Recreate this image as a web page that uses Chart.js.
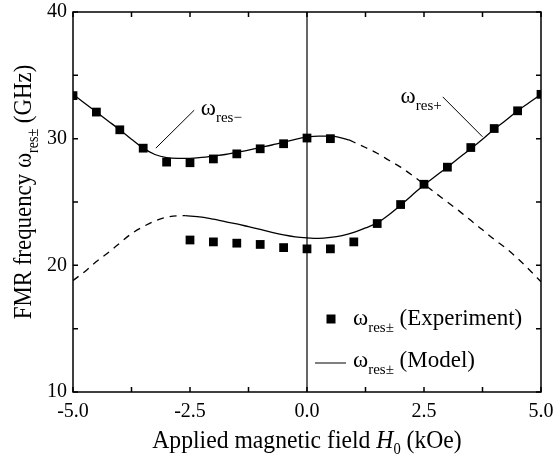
<!DOCTYPE html>
<html lang="en">
<head>
  <meta charset="UTF-8">
  <title>FMR frequency</title>
  <style>
    body { margin: 0; background: #fff; }
    canvas { display: block; }
  </style>
  <script src="https://cdn.jsdelivr.net/npm/chart.js@4.4.1/dist/chart.umd.min.js"></script>
</head>
<body>
  <canvas id="myChart" width="554" height="461"></canvas>

  <script>
    // measured points (squares)
    const expField = [-5, -4.5, -4, -3.5, -3, -2.5, -2, -1.5, -1, -0.5, 0, 0.5,
                      -2.5, -2, -1.5, -1, -0.5, 0, 0.5, 1, 1.5, 2, 2.5, 3, 3.5, 4, 4.5, 5];
    const expFreq = [33.4, 32.1, 30.7, 29.25, 28.15, 28.1, 28.4, 28.8, 29.2, 29.6, 30.05, 30.0,
                     22.0, 21.85, 21.75, 21.65, 21.4, 21.3, 21.3, 21.85, 23.3, 24.8, 26.4, 27.75, 29.3, 30.8, 32.2, 33.5];

    // model, res- branch
    const minusSolidField = [-5, -4.75, -4.5, -4.25, -4, -3.75, -3.5, -3.25, -3, -2.75, -2.5, -2.25, -2, -1.75,
                             -1.5, -1.25, -1, -0.75, -0.5, -0.25, 0, 0.25, 0.5, 0.75, 0.9];
    const minusSolidFreq = [33.5, 32.8, 32.1, 31.4, 30.7, 29.95, 29.25, 28.75, 28.5, 28.45, 28.45, 28.52, 28.63, 28.75,
                            28.92, 29.1, 29.3, 29.5, 29.72, 29.95, 30.12, 30.2, 30.2, 30.05, 29.9];
    const minusDashField = [0.9, 1.25, 1.5, 1.75, 2, 2.25, 2.5, 2.75, 3, 3.25, 3.5, 3.75, 4, 4.25, 4.5, 4.75, 5];
    const minusDashFreq = [29.9, 29.3, 28.85, 28.3, 27.75, 27.1, 26.4, 25.7, 25.0, 24.3, 23.55, 22.8, 22.05, 21.35, 20.55, 19.65, 18.7];

    // model, res+ branch
    const plusDashField = [-5, -4.75, -4.5, -4.25, -4, -3.75, -3.5, -3.25, -3, -2.75, -2.6];
    const plusDashFreq = [18.8, 19.5, 20.3, 21.0, 21.75, 22.5, 23.05, 23.5, 23.8, 23.92, 23.93];
    const plusSolidField = [-2.6, -2.25, -2, -1.75, -1.5, -1.25, -1, -0.75, -0.5, -0.25, 0, 0.25, 0.5, 0.75, 1,
                            1.25, 1.5, 1.75, 2, 2.25, 2.5, 2.75, 3, 3.25, 3.5, 3.75, 4, 4.25, 4.5, 4.75, 5];
    const plusSolidFreq = [23.93, 23.8, 23.64, 23.45, 23.27, 23.05, 22.83, 22.6, 22.4, 22.25, 22.17, 22.13, 22.2, 22.35, 22.6,
                           22.95, 23.35, 24.0, 24.75, 25.55, 26.35, 27.05, 27.75, 28.5, 29.2, 29.95, 30.75, 31.45, 32.2, 32.85, 33.5];

    const xTicks = [-5, -3.75, -2.5, -1.25, 0, 1.25, 2.5, 3.75, 5];
    const yTicks = [10, 15, 20, 25, 30, 35, 40];

    const serif = "'Liberation Serif', 'Times New Roman', serif";
    const pts = (xs, ys) => xs.map((x, i) => ({ x: x, y: ys[i] }));

    const lineSet = (xs, ys, dashed) => ({
      data: pts(xs, ys),
      showLine: true,
      pointRadius: 0,
      borderColor: '#000',
      borderWidth: 1.3,
      borderDash: dashed ? [7, 6] : [],
      cubicInterpolationMode: 'monotone',
      fill: false,
    });

    // text with subscript, parts = [[text, font, dy], ...]
    function drawRich(c, parts, x, y) {
      let cx = x;
      parts.forEach(p => {
        c.font = p[1];
        c.fillText(p[0], cx, y + (p[2] || 0));
        cx += c.measureText(p[0]).width;
      });
      return cx - x;
    }
    function richWidth(c, parts) {
      let w = 0;
      parts.forEach(p => { c.font = p[1]; w += c.measureText(p[0]).width; });
      return w;
    }

    const titleFont = '26px ' + serif;
    const titleSub = '16px ' + serif;
    const big = '23px ' + serif;
    const small = '15px ' + serif;

    const decor = {
      id: 'decor',
      beforeDatasetsDraw(chart) {
        const c = chart.ctx, xs = chart.scales.x, a = chart.chartArea;
        c.save();
        c.strokeStyle = '#000';
        c.lineWidth = 1.2;
        c.beginPath();
        c.moveTo(xs.getPixelForValue(0), a.top);
        c.lineTo(xs.getPixelForValue(0), a.bottom);
        c.stroke();
        c.restore();
      },
      afterDraw(chart) {
        const c = chart.ctx, xs = chart.scales.x, ys = chart.scales.y, a = chart.chartArea;
        c.save();
        c.strokeStyle = '#000';
        c.fillStyle = '#000';
        c.lineWidth = 1.5;
        c.strokeRect(a.left, a.top, a.right - a.left, a.bottom - a.top);

        // inward ticks on all four sides
        c.beginPath();
        xTicks.forEach(v => {
          const px = xs.getPixelForValue(v);
          c.moveTo(px, a.bottom); c.lineTo(px, a.bottom - 5);
          c.moveTo(px, a.top); c.lineTo(px, a.top + 5);
        });
        yTicks.forEach(v => {
          const py = ys.getPixelForValue(v);
          c.moveTo(a.left, py); c.lineTo(a.left + 5, py);
          c.moveTo(a.right, py); c.lineTo(a.right - 5, py);
        });
        c.stroke();

        c.textBaseline = 'alphabetic';
        c.textAlign = 'left';

        // x title (narrow serif look)
        const xt = [['Applied magnetic field ', titleFont], ['H', 'italic ' + titleFont], ['0', titleSub, 6], [' (kOe)', titleFont]];
        const xw = richWidth(c, xt);
        c.save();
        c.translate((a.left + a.right) / 2, 448);
        c.scale(0.91, 1);
        drawRich(c, xt, -xw / 2, 0);
        c.restore();

        // y title
        const yt = [['FMR frequency ', titleFont], ['\u03c9', titleFont], ['res\u00b1', titleSub, 7], [' (GHz)', titleFont]];
        const yw = richWidth(c, yt);
        c.save();
        c.translate(31, 192);
        c.rotate(-Math.PI / 2);
        c.scale(0.88, 1);
        drawRich(c, yt, -yw / 2, 0);
        c.restore();

        // branch labels with leader lines
        c.lineWidth = 1;
        c.beginPath();
        c.moveTo(xs.getPixelForValue(-3.23), ys.getPixelForValue(29.25));
        c.lineTo(xs.getPixelForValue(-2.41), ys.getPixelForValue(32.25));
        c.moveTo(xs.getPixelForValue(2.9), ys.getPixelForValue(33.3));
        c.lineTo(xs.getPixelForValue(3.75), ys.getPixelForValue(30.15));
        c.stroke();
        drawRich(c, [['\u03c9', big], ['res\u2212', small, 7]], xs.getPixelForValue(-2.27), ys.getPixelForValue(31.85));
        drawRich(c, [['\u03c9', big], ['res+', small, 7]], xs.getPixelForValue(2.0), ys.getPixelForValue(32.8));

        // legend
        const lx = a.right - 210, ly1 = a.bottom - 73, ly2 = a.bottom - 29;
        c.fillRect(lx - 4.5, ly1 - 4.5, 9, 9);
        c.beginPath();
        c.moveTo(lx - 16, ly2); c.lineTo(lx + 15, ly2);
        c.stroke();
        drawRich(c, [['\u03c9', big], ['res\u00b1', small, 7], [' (Experiment)', big]], lx + 22, ly1 + 6);
        drawRich(c, [['\u03c9', big], ['res\u00b1', small, 7], [' (Model)', big]], lx + 22, ly2 + 4);
        c.restore();
      }
    };

    const ctx = document.getElementById('myChart').getContext('2d');
    const chart = new Chart(ctx, {
      type: 'scatter',
      data: {
        datasets: [
          {
            data: pts(expField, expFreq),
            pointStyle: 'rect',
            pointRadius: 6.2,
            backgroundColor: '#000',
            borderColor: '#000',
            borderWidth: 0,
            showLine: false,
          },
          lineSet(minusSolidField, minusSolidFreq, false),
          lineSet(minusDashField, minusDashFreq, true),
          lineSet(plusDashField, plusDashFreq, true),
          lineSet(plusSolidField, plusSolidFreq, false),
        ],
      },
      options: {
        responsive: false,
        animation: false,
        layout: { padding: { top: 12, right: 13, left: 0, bottom: 0 } },
        plugins: {
          legend: { display: false },
          tooltip: { enabled: false },
        },
        scales: {
          x: {
            type: 'linear',
            min: -5,
            max: 5,
            afterFit: (s) => { s.height = 69; s.paddingLeft = 0; s.paddingRight = 0; },
            grid: { display: false, drawTicks: false },
            border: { display: false },
            ticks: {
              stepSize: 1.25,
              autoSkip: false,
              maxRotation: 0,
              padding: 8,
              color: '#000',
              font: { family: serif, size: 20 },
              callback: (v) => (Math.abs(v % 2.5) < 1e-9 ? v.toFixed(1) : ''),
            },
          },
          y: {
            type: 'linear',
            min: 10,
            max: 40,
            afterFit: (s) => { s.width = 73; s.paddingTop = 0; s.paddingBottom = 0; },
            grid: { display: false, drawTicks: false },
            border: { display: false },
            ticks: {
              stepSize: 5,
              padding: 6,
              color: '#000',
              font: { family: serif, size: 20 },
              callback: (v) => (v % 10 === 0 ? v : ''),
            },
          },
        },
      },
      plugins: [decor],
    });
  </script>
</body>
</html>
